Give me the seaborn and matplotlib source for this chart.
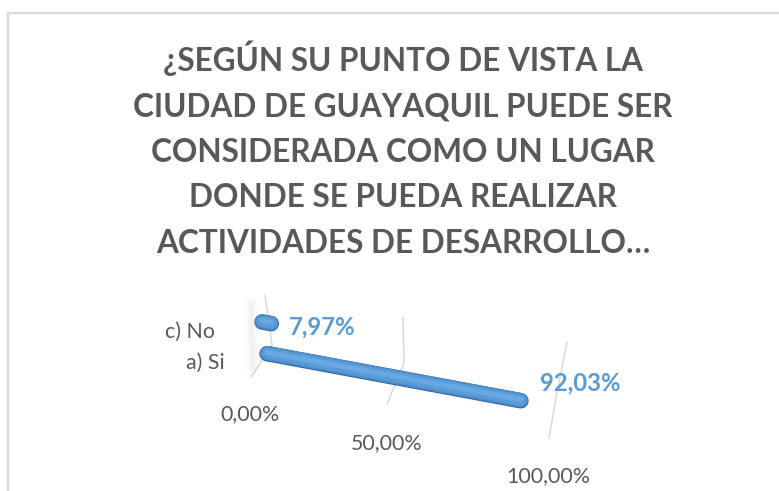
import matplotlib
matplotlib.use("Agg")
import matplotlib.pyplot as plt
from matplotlib.transforms import Affine2D
import seaborn as sns

sns.set_theme(style="white")
plt.rcParams['font.family'] = ['Lato', 'DejaVu Sans']

title = ("¿SEGÚN SU PUNTO DE VISTA LA\n"
         "CIUDAD DE GUAYAQUIL PUEDE SER\n"
         "CONSIDERADA COMO UN LUGAR\n"
         "DONDE SE PUEDA REALIZAR\n"
         "ACTIVIDADES DE DESARROLLO…")
categories = ["a) Si", "c) No"]
values = [92.03, 7.97]
value_ticks = [0, 50, 100]

GREY = "#595959"
BLUE = "#5b9bd5"

fig = plt.figure(figsize=(7.79, 4.91), dpi=100)
# axes in image pixels, only its top and left spines are the chart frame
ax = fig.add_axes([8 / 779, 0, 771 / 779, 478 / 491])
ax.set_xlim(8, 779)
ax.set_ylim(491, 13)
sns.despine(ax=ax, top=False, left=False, right=True, bottom=True)
for s in ["top", "left"]:
    ax.spines[s].set_color("#d9d9d9")
    ax.spines[s].set_linewidth(1.6)
ax.set_xticks([])
ax.set_yticks([])

# the 3D view: value axis runs downhill, categories step up the wall
view = Affine2D.from_values(2.91, 0.54, -5, -31.7, 260, 351.7) + ax.transData

# wall and floor lines, they bend a little in the original
grid_lines = {
    0: ([265, 272, 251], [295, 345, 377]),
    50: ([403, 404, 387], [317, 363, 404]),
    100: ([567, 557, 549], [342, 392, 438]),
}
for t in value_ticks:
    ax.plot(*grid_lines[t], color="#d9d9d9", lw=1.1, zorder=1)

# soft shadow on the wall behind the bar starts
for w, a in [(11, 0.02), (8, 0.025), (5, 0.03), (2, 0.03)]:
    ax.plot([251, 251], [304, 338], color="#7f7f7f", lw=w, alpha=a, zorder=1)
    ax.plot([252, 252], [346, 367], color="#7f7f7f", lw=w, alpha=a, zorder=1)

cap = 2.4  # cap radius in value units, so the pill ends at the value
layers = [(-0.02, 11.2, "#2f6699"), (-0.005, 10.4, "#4a8ccb"),
          (0.0, 8.0, "#5b9bd5"), (0.02, 3.8, "#66a8e2")]
for i, v in enumerate(values):
    for off, lw, col in layers:
        sns.lineplot(x=[cap, v - cap], y=[i + off, i + off], ax=ax, color=col,
                     lw=lw, solid_capstyle="round", transform=view, zorder=3)
ax.set_xlabel("")
ax.set_ylabel("")

ax.text(403, 149, title, ha="center", va="center", fontsize=22.7, color=GREY,
        fontweight="bold", linespacing=1.69)

for label, (x, y) in zip(categories, [(225, 363), (215, 332)]):
    ax.text(x, y, label, ha="right", va="center", fontsize=15.4, color=GREY)
for t, (x, y) in zip(value_ticks, [(250, 414), (387, 443), (548, 476)]):
    ax.text(x, y, f"{t:.2f}%".replace(".", ","), ha="center", va="center",
            fontsize=15.4, color=GREY)
for v, (x, y) in zip(values, [(540, 383), (289, 327)]):
    ax.text(x, y, f"{v:.2f}%".replace(".", ","), ha="left", va="center",
            fontsize=17.2, color=BLUE, fontweight="bold")

fig.savefig("out.png", dpi=100)
